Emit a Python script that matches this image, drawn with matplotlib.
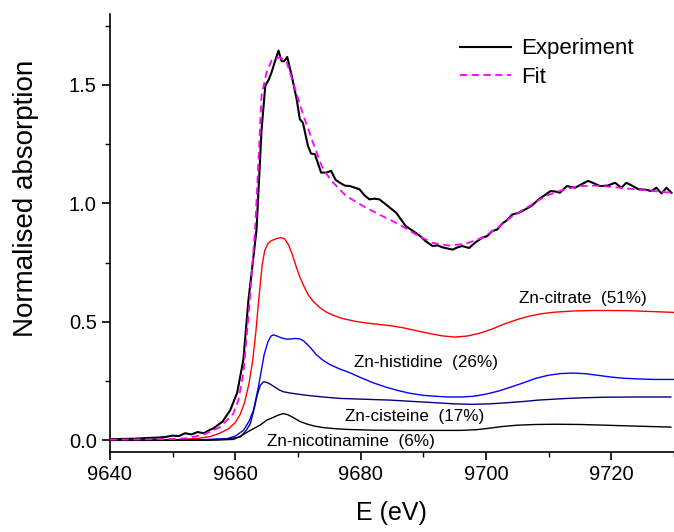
import numpy as np
import matplotlib.pyplot as plt
from matplotlib.ticker import MultipleLocator

plt.rcParams['font.family'] = ['Liberation Sans', 'DejaVu Sans']

# experiment (noisy trace)
exp_e = [9640, 9642, 9644, 9646, 9648, 9649, 9650, 9651, 9652, 9653, 9654, 9655, 9656,
         9656.5, 9657, 9658, 9658.5, 9659.2, 9660.3, 9661.3, 9662.1, 9662.8, 9663.4,
         9664.2, 9664.8, 9665.3, 9665.8, 9666.3, 9666.9, 9667.4, 9667.8, 9668.3, 9669.0,
         9669.8, 9670.3, 9670.8, 9671.6, 9672.1, 9672.7, 9673.7, 9674.5, 9675.3, 9676.0,
         9676.7, 9677.5, 9678.3, 9679.8, 9680.6, 9681.4, 9682.2, 9683.0, 9684.3, 9685.7,
         9687.2, 9688.0, 9688.8, 9689.6, 9690.4, 9691.5, 9692.3, 9693.0, 9693.8, 9694.7,
         9695.5, 9696.2, 9697.3, 9698.3, 9699.4, 9700.2, 9701.0, 9701.8, 9702.6, 9703.4,
         9704.2, 9705.2, 9706.3, 9707.3, 9708.4, 9709.4, 9710.3, 9711.1, 9711.8, 9712.9,
         9714.2, 9715.2, 9716.3, 9717.2, 9718.2, 9719.4, 9720.6, 9721.6, 9722.4, 9723.3,
         9724.3, 9725.4, 9726.4, 9727.2, 9728.0, 9728.8, 9729.6]
exp_mu = [0.005, 0.006, 0.007, 0.01, 0.012, 0.015, 0.02, 0.018, 0.03, 0.025, 0.035, 0.03, 0.045,
          0.05, 0.06, 0.08, 0.1, 0.127, 0.2, 0.34, 0.59, 0.75, 0.89,
          1.31, 1.497, 1.52, 1.553, 1.596, 1.645, 1.60, 1.60, 1.618, 1.54,
          1.44, 1.356, 1.34, 1.243, 1.21, 1.208, 1.13, 1.13, 1.137, 1.10,
          1.087, 1.075, 1.073, 1.06, 1.035, 1.017, 1.02, 1.017, 0.99, 0.96,
          0.904, 0.89, 0.876, 0.86, 0.84, 0.82, 0.823, 0.815, 0.81, 0.805,
          0.815, 0.82, 0.812, 0.835, 0.855, 0.862, 0.883, 0.89, 0.915, 0.93,
          0.953, 0.96, 0.975, 0.99, 1.017, 1.035, 1.052, 1.05, 1.045, 1.073,
          1.066, 1.08, 1.095, 1.085, 1.073, 1.075, 1.087, 1.066, 1.087, 1.075,
          1.06, 1.058, 1.052, 1.066, 1.042, 1.066, 1.045]

fit_e = [9640, 9645, 9650, 9652.3, 9655, 9657.6, 9659.7, 9660.5, 9661.3, 9662.2, 9663.2,
         9664.2, 9665.0, 9665.8, 9667.1, 9668.2, 9669.3, 9670.8, 9672.4, 9674.0, 9675.6,
         9677.7, 9680.9, 9683.5, 9686.2, 9688.8, 9691.5, 9694.1, 9696.8, 9699.4, 9702,
         9704.2, 9707, 9709.5, 9712, 9714.8, 9717.5, 9720.0, 9722.5, 9725.3, 9727.5, 9729.6]
fit_mu = [0.003, 0.004, 0.006, 0.009, 0.025, 0.056, 0.113, 0.17, 0.283, 0.55, 0.904,
          1.455, 1.553, 1.603, 1.617, 1.596, 1.504, 1.377, 1.257, 1.144, 1.088,
          1.031, 0.981, 0.946, 0.911, 0.869, 0.833, 0.822, 0.83, 0.855, 0.9,
          0.946, 0.99, 1.031, 1.055, 1.073, 1.075, 1.07, 1.063, 1.056, 1.05, 1.045]

# Zn-citrate (51%)
cit_e = [9640, 9650, 9654, 9656, 9657.5, 9659, 9660, 9660.8, 9661.5, 9662.2, 9662.8, 9663.3,
         9663.7, 9664.3, 9664.7, 9665.2, 9665.8, 9666.5, 9667.3, 9667.9, 9668.5, 9669.1,
         9669.7, 9670.3, 9671, 9671.7, 9672.5, 9673.5, 9674.5, 9675.5, 9677, 9679, 9681,
         9683, 9685, 9687, 9689, 9691, 9693, 9695, 9697, 9699, 9701, 9703, 9705, 9707,
         9709, 9711, 9714, 9717, 9720, 9723, 9726, 9730]
cit_mu = [0.0, 0.002, 0.008, 0.016, 0.03, 0.05, 0.075, 0.11, 0.16, 0.24, 0.34, 0.46,
          0.58, 0.74, 0.80, 0.83, 0.843, 0.851, 0.856, 0.85, 0.825, 0.785,
          0.735, 0.69, 0.648, 0.612, 0.585, 0.56, 0.542, 0.529, 0.515, 0.503, 0.495,
          0.489, 0.483, 0.474, 0.462, 0.451, 0.441, 0.436, 0.44, 0.452, 0.47, 0.492, 0.51, 0.525,
          0.535, 0.541, 0.546, 0.548, 0.548, 0.547, 0.544, 0.54]

# Zn-histidine (26%)
his_e = [9640, 9650, 9655, 9658.7, 9660, 9661.3, 9662.2, 9662.9, 9663.5, 9664.0, 9664.6,
         9665.2, 9665.7, 9666.1, 9666.7, 9667.4, 9668.2, 9668.9, 9669.6, 9670.3, 9670.9,
         9671.5, 9672.2, 9673.0, 9674.0, 9675.1, 9676.5, 9678.3, 9680, 9682, 9684, 9686,
         9688, 9690, 9692, 9694, 9696, 9698, 9700, 9702, 9704, 9706, 9708, 9710, 9712,
         9714, 9716, 9718, 9720, 9722, 9724.5, 9727, 9730]
his_mu = [0.0, 0.001, 0.003, 0.007, 0.018, 0.042, 0.08, 0.127, 0.2, 0.27, 0.36,
          0.415, 0.44, 0.445, 0.44, 0.432, 0.427, 0.428, 0.43, 0.428, 0.42,
          0.405, 0.385, 0.36, 0.338, 0.32, 0.303, 0.285, 0.265, 0.243, 0.225, 0.21,
          0.198, 0.19, 0.186, 0.183, 0.183, 0.186, 0.195, 0.208, 0.225, 0.243, 0.262, 0.275, 0.282,
          0.284, 0.281, 0.274, 0.267, 0.262, 0.259, 0.257, 0.257]

# Zn-cisteine (17%)
cis_e = [9640, 9650, 9656, 9659, 9660.8, 9661.7, 9662.4, 9663.0, 9663.5, 9664.0, 9664.5,
         9665.0, 9665.6, 9666.3, 9667.0, 9667.7, 9668.7, 9670, 9671.4, 9674, 9676.7, 9680,
         9684.6, 9688.5, 9692.5, 9695, 9697.8, 9700.5, 9703, 9706, 9708.4, 9711, 9713,
         9716, 9719, 9724, 9729.5]
cis_mu = [0.0, 0.001, 0.003, 0.007, 0.014, 0.04, 0.07, 0.13, 0.19, 0.232, 0.247,
          0.245, 0.237, 0.225, 0.213, 0.205, 0.2, 0.195, 0.19, 0.183, 0.177, 0.174,
          0.17, 0.164, 0.158, 0.154, 0.152, 0.154, 0.158, 0.164, 0.17, 0.174, 0.177,
          0.18, 0.182, 0.183, 0.183]

# Zn-nicotinamine (6%)
nic_e = [9640, 9650, 9657, 9659.7, 9661, 9662.4, 9664, 9665, 9666, 9666.9, 9667.7,
         9668.4, 9669.2, 9670.3, 9671.3, 9672.5, 9674, 9676, 9678, 9681.9, 9687, 9692.5,
         9696, 9698.5, 9700.5, 9702.5, 9705, 9708, 9711.1, 9715, 9719, 9724, 9729.5]
nic_mu = [0.0, 0.0, 0.001, 0.004, 0.02, 0.042, 0.065, 0.085, 0.096, 0.107, 0.113,
          0.108, 0.097, 0.08, 0.07, 0.061, 0.054, 0.049, 0.046, 0.043, 0.042, 0.042,
          0.042, 0.045, 0.051, 0.058, 0.064, 0.067, 0.068, 0.067, 0.064, 0.06, 0.056]

labels = ['Zn-citrate  (51%)', 'Zn-histidine  (26%)', 'Zn-cisteine  (17%)', 'Zn-nicotinamine  (6%)']
label_pos = [(9715.4, 0.60), (9690.5, 0.33), (9688.7, 0.10), (9678.4, -0.003)]

fig = plt.figure(figsize=(6.74, 5.32), dpi=100)
ax = fig.add_axes([0.163, 0.150, 0.837, 0.824])

ax.plot(cit_e, cit_mu, color='#ff0000', lw=1.0)
ax.plot(his_e, his_mu, color='#0000ff', lw=1.0)
ax.plot(cis_e, cis_mu, color='#000080', lw=1.0)
ax.plot(nic_e, nic_mu, color='black', lw=1.0)
ax.plot(fit_e, fit_mu, color='#ff00ff', lw=1.3, ls=(0, (4, 2.5)), label='Fit', zorder=4)
ax.plot(exp_e, exp_mu, color='black', lw=1.5, label='Experiment', zorder=3)

for txt, (x, y) in zip(labels, label_pos):
    ax.text(x, y, txt, fontsize=12.3, ha='center', va='center')

h, l = ax.get_legend_handles_labels()
ax.legend(h[::-1], l[::-1], loc='upper left', bbox_to_anchor=(0.62, 0.944), frameon=False,
          fontsize=16, handlelength=2.3, handletextpad=0.45, labelspacing=0.35,
          borderpad=0, borderaxespad=0)

ax.set_xlim(9640, 9730)
ax.set_ylim(-0.05, 1.8)
ax.xaxis.set_major_locator(MultipleLocator(20))
ax.xaxis.set_minor_locator(MultipleLocator(10))
ax.yaxis.set_major_locator(MultipleLocator(0.5))
ax.yaxis.set_minor_locator(MultipleLocator(0.25))
ax.yaxis.set_major_formatter(plt.FormatStrFormatter('%.1f'))

for s in ['top', 'right']:
    ax.spines[s].set_visible(False)
for s in ['left', 'bottom']:
    ax.spines[s].set_linewidth(1.2)
ax.tick_params(which='major', direction='out', length=6, width=1.2, labelsize=14.5)
ax.tick_params(which='minor', direction='out', length=3.5, width=1.0)

ax.set_xlabel('E (eV)', fontsize=18, labelpad=12)
ax.set_ylabel('Normalised absorption', fontsize=20)
ax.yaxis.set_label_coords(-0.125, 0.58)

fig.savefig('out.png', dpi=100)
